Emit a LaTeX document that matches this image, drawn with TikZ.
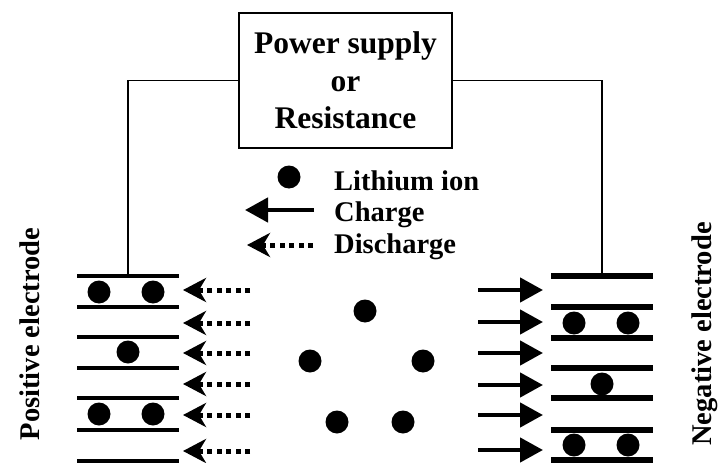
\documentclass[tikz,border=0pt]{standalone}
\usepackage{fontspec}
\setmainfont{Liberation Serif}
\usetikzlibrary{arrows.meta}

\begin{document}
\begin{tikzpicture}[x=1pt,y=-1pt,
  ion/.style={fill=black},
  pplate/.style={line width=3.5pt},
  nplate/.style={line width=6.5pt},
  wire/.style={line width=1.7pt},
  chg/.style={line width=4.5pt,-{Triangle[length=23pt,width=24pt]}},
  dis/.style={line width=5pt,dash pattern=on 5pt off 4.5pt,-{Stealth[length=23pt,width=24pt,inset=7pt]}},
  lbl/.style={inner sep=0pt,font=\fontsize{28.5}{34}\selectfont\bfseries}]
\useasboundingbox (0,0) rectangle (721,463);
\node[draw,line width=2.5pt,minimum width=213pt,minimum height=135pt,inner sep=0pt,align=center,
  font=\fontsize{31.5}{37.5}\selectfont\bfseries] (box) at (345.5,80.5) {Power supply\\or\\Resistance};
\coordinate (lt) at (128,276);
\coordinate (rt) at (602,276);
\draw[wire] (box.west) -| (lt);
\draw[wire] (box.east) -| (rt);
\draw[pplate] (77,276) -- (179,276);
\draw[pplate] (77,307) -- (179,307);
\draw[pplate] (77,337) -- (179,337);
\draw[pplate] (77,368) -- (179,368);
\draw[pplate] (77,398) -- (179,398);
\draw[pplate] (77,430) -- (179,430);
\draw[pplate] (77,461) -- (179,461);
\fill[ion] (99,292) circle (11.5);
\fill[ion] (153,292) circle (11.5);
\fill[ion] (128,352) circle (11.5);
\fill[ion] (99,414) circle (11.5);
\fill[ion] (153,414) circle (11.5);
\draw[nplate] (551,276) -- (653,276);
\draw[nplate] (551,307) -- (653,307);
\draw[nplate] (551,338) -- (653,338);
\draw[nplate] (551,368) -- (653,368);
\draw[nplate] (551,398) -- (653,398);
\draw[nplate] (551,430) -- (653,430);
\draw[nplate] (551,460) -- (653,460);
\fill[ion] (574,323) circle (11.5);
\fill[ion] (628,323) circle (11.5);
\fill[ion] (602,384) circle (11.5);
\fill[ion] (574,445) circle (11.5);
\fill[ion] (628,445) circle (11.5);
\draw[dis] (250,290) -- (183,290);
\draw[dis] (250,323) -- (183,323);
\draw[dis] (250,353) -- (183,353);
\draw[dis] (250,384) -- (183,384);
\draw[dis] (250,415) -- (183,415);
\draw[dis] (250,451) -- (183,451);
\draw[chg] (478,290) -- (543,290);
\draw[chg] (478,322) -- (543,322);
\draw[chg] (478,353) -- (543,353);
\draw[chg] (478,385) -- (543,385);
\draw[chg] (478,415) -- (543,415);
\draw[chg] (478,450) -- (543,450);
\fill[ion] (365,311) circle (11.5);
\fill[ion] (310,361) circle (11.5);
\fill[ion] (423,361) circle (11.5);
\fill[ion] (337,422) circle (11.5);
\fill[ion] (403,422) circle (11.5);
\fill[ion] (289,177) circle (11.5);
\draw[chg] (314,210) -- (245,210);
\draw[dis] (313,245) -- (247,245);
\node[lbl,anchor=base west] (li) at (334,190) {Lithium ion};
\node[lbl,anchor=base west] (ch) at (334,221) {Charge};
\node[lbl,anchor=base west] (dc) at (334,253) {Discharge};
\node[lbl,rotate=90] (pos) at (30,334) {Positive electrode};
\node[lbl,rotate=90] (neg) at (705,334) {Negative electrode};
\end{tikzpicture}
\end{document}
